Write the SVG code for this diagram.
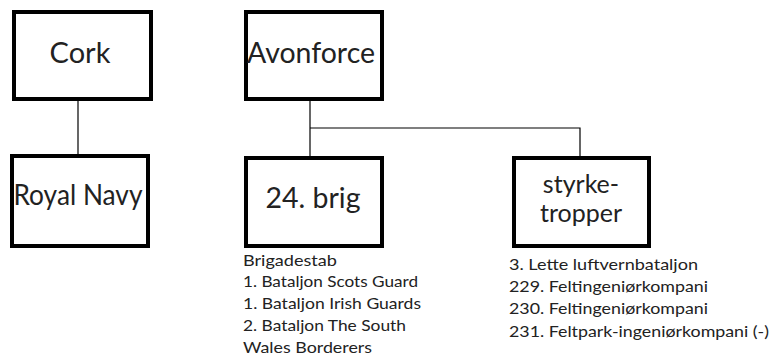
<svg xmlns="http://www.w3.org/2000/svg" width="775" height="362" viewBox="0 0 775 362">
<style>
.box{fill:#fff;stroke:#000;stroke-width:4}
.lbl{font-family:Lato,"Liberation Sans",sans-serif;fill:#222;text-anchor:middle}
.big{font-size:29px}
.mid{font-size:25px}
.lst{font-family:Lato,"Liberation Sans",sans-serif;font-size:16px;fill:#222}
.con{stroke:#000;stroke-width:1.2;fill:none}
</style>
<rect width="775" height="362" fill="#fff"/>
<g id="connectors">
<line class="con" x1="78" y1="100" x2="78" y2="154"/>
<line class="con" x1="310" y1="100" x2="310" y2="157"/>
<polyline class="con" points="310,128 580,128 580,156"/>
</g>
<g id="cork">
<rect class="box" x="14" y="12" width="137" height="87"/>
<text class="lbl big" x="80" y="63">Cork</text>
</g>
<g id="royalnavy">
<rect class="box" x="12" y="156" width="136" height="90"/>
<text class="lbl big" x="78" y="205" textLength="129" lengthAdjust="spacingAndGlyphs">Royal Navy</text>
</g>
<g id="avonforce">
<rect class="box" x="246" y="12" width="136" height="87"/>
<text class="lbl big" x="311" y="63" textLength="128" lengthAdjust="spacingAndGlyphs">Avonforce</text>
</g>
<g id="brig24">
<rect class="box" x="246" y="158" width="136" height="88"/>
<text class="lbl big" x="313" y="208" textLength="95" lengthAdjust="spacingAndGlyphs">24. brig</text>
<text class="lst" x="243" y="266" textLength="94" lengthAdjust="spacingAndGlyphs">Brigadestab</text>
<text class="lst" x="243" y="287" textLength="175" lengthAdjust="spacingAndGlyphs">1. Bataljon Scots Guard</text>
<text class="lst" x="243" y="309" textLength="178" lengthAdjust="spacingAndGlyphs">1. Bataljon Irish Guards</text>
<text class="lst" x="243" y="331" textLength="163" lengthAdjust="spacingAndGlyphs">2. Bataljon The South</text>
<text class="lst" x="243" y="353" textLength="129" lengthAdjust="spacingAndGlyphs">Wales Borderers</text>
</g>
<g id="styrketropper">
<rect class="box" x="514" y="158" width="135" height="88"/>
<text class="lbl mid" x="581" y="193">styrke-</text>
<text class="lbl mid" x="581" y="222">tropper</text>
<text class="lst" x="509" y="270" textLength="189" lengthAdjust="spacingAndGlyphs">3. Lette luftvernbataljon</text>
<text class="lst" x="509" y="292" textLength="199" lengthAdjust="spacingAndGlyphs">229. Feltingeniørkompani</text>
<text class="lst" x="509" y="314" textLength="199" lengthAdjust="spacingAndGlyphs">230. Feltingeniørkompani</text>
<text class="lst" x="509" y="337" textLength="260" lengthAdjust="spacingAndGlyphs">231. Feltpark-ingeniørkompani (-)</text>
</g>
</svg>
